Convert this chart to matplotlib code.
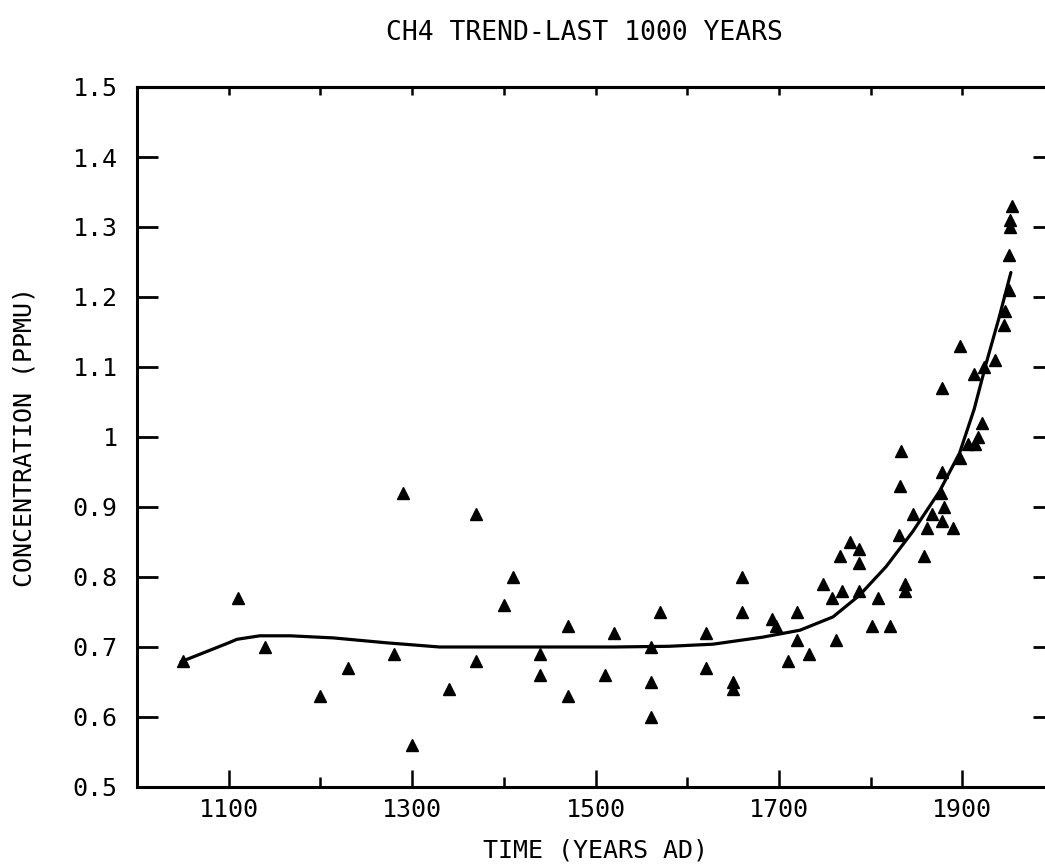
import matplotlib
matplotlib.use("Agg")
import matplotlib.pyplot as plt

#%% Data
years = [1050, 1110, 1140, 1200, 1230, 1280, 1290, 1300, 1340, 1370, 1370, 1400,
         1410, 1440, 1440, 1470, 1470, 1510, 1520, 1560, 1560, 1560, 1570, 1620,
         1620, 1650, 1650, 1660, 1660, 1693, 1697, 1710, 1720, 1720, 1733, 1748,
         1758, 1762, 1767, 1769, 1778, 1787, 1787, 1787, 1801, 1808, 1821, 1831,
         1832, 1833, 1837, 1837, 1846, 1858, 1862, 1867, 1877, 1878, 1880, 1878,
         1878, 1890, 1898, 1898, 1906, 1914, 1917, 1921, 1913, 1924, 1936, 1946,
         1947, 1951, 1951, 1952, 1952, 1954]
conc = [0.68, 0.77, 0.70, 0.63, 0.67, 0.69, 0.92, 0.56, 0.64, 0.68, 0.89, 0.76,
        0.80, 0.69, 0.66, 0.73, 0.63, 0.66, 0.72, 0.70, 0.65, 0.60, 0.75, 0.72,
        0.67, 0.65, 0.64, 0.80, 0.75, 0.74, 0.73, 0.68, 0.75, 0.71, 0.69, 0.79,
        0.77, 0.71, 0.83, 0.78, 0.85, 0.84, 0.82, 0.78, 0.73, 0.77, 0.73, 0.86,
        0.93, 0.98, 0.79, 0.78, 0.89, 0.83, 0.87, 0.89, 0.92, 0.88, 0.90, 0.95,
        1.07, 0.87, 0.97, 1.13, 0.99, 0.99, 1.00, 1.02, 1.09, 1.10, 1.11, 1.16,
        1.18, 1.21, 1.26, 1.30, 1.31, 1.33]

# Smoothed trend curve
fit_years = [1048, 1075, 1100, 1109, 1134, 1167, 1214, 1272, 1330, 1440, 1520,
             1580, 1628, 1682, 1723, 1759, 1788, 1817, 1846, 1875, 1897, 1913,
             1926, 1940, 1953]
fit_conc = [0.679, 0.693, 0.706, 0.711, 0.716, 0.716, 0.713, 0.706, 0.700, 0.700,
            0.700, 0.701, 0.704, 0.714, 0.724, 0.743, 0.774, 0.815, 0.865, 0.922,
            0.977, 1.040, 1.105, 1.170, 1.235]

y_ticks = [0.5, 0.6, 0.7, 0.8, 0.9, 1.0, 1.1, 1.2, 1.3, 1.4, 1.5]
y_labels = ['0.5', '0.6', '0.7', '0.8', '0.9', '1', '1.1', '1.2', '1.3', '1.4', '1.5']
x_major = [1100, 1300, 1500, 1700, 1900]
x_minor = [1200, 1400, 1600, 1800]
x_top = [1100, 1200, 1300, 1400, 1500, 1600, 1700, 1800, 1900]

#%% Figure
plt.rcParams['font.family'] = ['DejaVu Sans Mono']
fs = 18

fig = plt.figure(figsize=(10.45, 8.66), dpi=100)
# axes runs past the right edge of the figure, as in the scanned original
ax = fig.add_axes([137 / 1045, 79 / 866, 917 / 1045, 700 / 866])

ax.plot(fit_years, fit_conc, color='black', lw=2.3, solid_capstyle='round')
ax.plot(years, conc, linestyle='none', marker='^', ms=8, color='black')

ax.set_xlim(1000, 2000)
ax.set_ylim(0.5, 1.5)

for side in ax.spines.values():
    side.set_linewidth(2.2)

ax.set_xticks(x_major)
ax.set_xticks(x_minor, minor=True)
ax.set_yticks(y_ticks)
ax.set_yticklabels(y_labels)
ax.tick_params(axis='x', which='major', direction='in', length=12, width=1.8,
               labelsize=fs, pad=8, top=False)
ax.tick_params(axis='x', which='minor', direction='in', length=7, width=1.8, top=False)
ax.tick_params(axis='y', direction='in', length=15, width=2, labelsize=fs, pad=14,
               right=True)

top = ax.secondary_xaxis('top')
top.set_xticks(x_top)
top.tick_params(direction='in', length=6, width=1.8, labeltop=False)
top.spines['top'].set_linewidth(2.2)

ax.set_xlabel('TIME (YEARS AD)', fontsize=fs, labelpad=12)
ax.set_ylabel('CONCENTRATION (PPMU)', fontsize=fs, labelpad=26)

fig.text(584 / 1045, 1 - 33 / 866, 'CH4 TREND-LAST 1000 YEARS', fontsize=fs + 1,
         ha='center', va='center')

fig.savefig('out.png', dpi=100)
